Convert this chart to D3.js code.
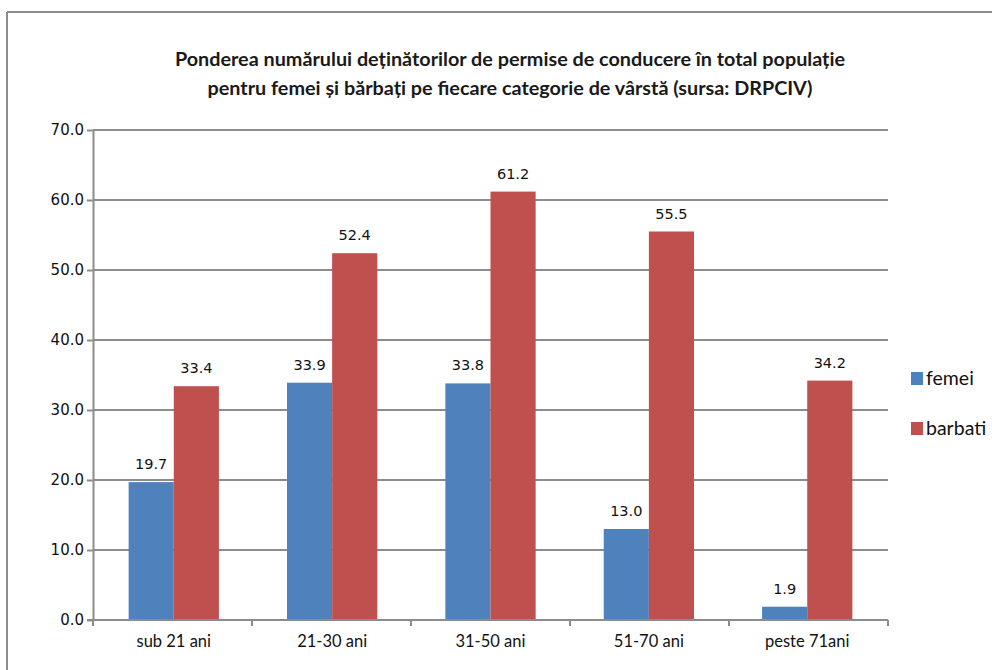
<!DOCTYPE html>
<html>
<head>
<meta charset="utf-8">
<script src="https://cdn.jsdelivr.net/npm/d3@7"></script>
<style>
  html, body { margin: 0; padding: 0; background: #fff; }
  svg { display: block; }
</style>
</head>
<body>
<svg id="chart" width="992" height="670"></svg>
<script>
// Age groups and share (%) of driving-licence holders per group
const categories = ["sub 21 ani", "21-30 ani", "31-50 ani", "51-70 ani", "peste 71ani"];
const femei = [19.7, 33.9, 33.8, 13.0, 1.9];
const barbati = [33.4, 52.4, 61.2, 55.5, 34.2];
const seriesNames = ["femei", "barbati"];
const seriesColors = ["#4f81bd", "#c0504d"];
const yTicks = [0, 10, 20, 30, 40, 50, 60, 70];
const titleLines = [
  "Ponderea numărului deținătorilor de permise de conducere în total populație",
  "pentru femei și bărbați pe fiecare categorie de vârstă (sursa: DRPCIV)"
];

const svg = d3.select("#chart");
const plot = { left: 93, right: 888, top: 130, bottom: 620 };
const numFont = "'DejaVu Sans', Verdana, sans-serif";
const textFont = "Lato, 'Open Sans', sans-serif";

// frame around the chart area
svg.append("line").attr("x1", 7).attr("x2", 992).attr("y1", 12).attr("y2", 12)
  .attr("stroke", "#8c8c8c").attr("stroke-width", 2);
svg.append("line").attr("x1", 7).attr("x2", 7).attr("y1", 12).attr("y2", 670)
  .attr("stroke", "#8c8c8c").attr("stroke-width", 2);

// title
svg.append("g").selectAll("text").data(titleLines).join("text")
  .attr("x", 510).attr("y", (d, i) => 66 + i * 29)
  .attr("text-anchor", "middle")
  .attr("font-family", textFont)
  .attr("font-weight", "bold").attr("font-size", 19.8).attr("fill", "#1a1a1a")
  .text(d => d);

const x0 = d3.scaleBand().domain(categories).range([plot.left, plot.right])
  .paddingInner(0.43).paddingOuter(0.225);
const x1 = d3.scaleBand().domain(seriesNames).range([0, x0.bandwidth()]);
const y = d3.scaleLinear().domain([0, 70]).range([plot.bottom, plot.top]);

// horizontal gridlines
svg.append("g").selectAll("line").data(yTicks.filter(t => t > 0)).join("line")
  .attr("x1", plot.left).attr("x2", plot.right)
  .attr("y1", d => y(d)).attr("y2", d => y(d))
  .attr("stroke", "#8c8c8c").attr("stroke-width", 2);

// bars
const rows = categories.map((c, i) => ({ cat: c, values: [femei[i], barbati[i]] }));
const groups = svg.append("g").selectAll("g").data(rows).join("g")
  .attr("transform", d => `translate(${x0(d.cat)},0)`);
groups.selectAll("rect").data(d => d.values.map((v, j) => ({ key: seriesNames[j], v, j })))
  .join("rect")
  .attr("x", d => x1(d.key)).attr("width", x1.bandwidth())
  .attr("y", d => y(d.v)).attr("height", d => y(0) - y(d.v))
  .attr("fill", d => seriesColors[d.j]);
groups.selectAll("text").data(d => d.values.map((v, j) => ({ key: seriesNames[j], v, j })))
  .join("text")
  .attr("x", d => x1(d.key) + x1.bandwidth() / 2)
  .attr("y", d => y(d.v) - 13)
  .attr("text-anchor", "middle")
  .attr("font-family", numFont)
  .attr("font-size", 14.5).attr("fill", "#111")
  .text(d => d.v.toFixed(1));

// y axis
const yAxis = svg.append("g").attr("transform", `translate(${plot.left},0)`)
  .call(d3.axisLeft(y).tickValues(yTicks).tickFormat(d3.format(".1f")).tickSize(6).tickSizeOuter(0));
yAxis.select(".domain").attr("stroke", "#8c8c8c").attr("stroke-width", 2);
yAxis.selectAll(".tick line").attr("stroke", "#8c8c8c").attr("stroke-width", 2);
yAxis.selectAll(".tick text").attr("x", -9)
  .attr("font-family", numFont).attr("font-size", 15).attr("fill", "#111");

// x axis with ticks between groups
const xAxisG = svg.append("g");
xAxisG.append("line").attr("x1", plot.left - 6).attr("x2", plot.right)
  .attr("y1", plot.bottom).attr("y2", plot.bottom)
  .attr("stroke", "#8c8c8c").attr("stroke-width", 2);
const step = (plot.right - plot.left) / categories.length;
const boundaries = d3.range(categories.length + 1).map(i => plot.left + i * step);
xAxisG.selectAll("line.tk").data(boundaries).join("line").attr("class", "tk")
  .attr("x1", d => d).attr("x2", d => d).attr("y1", plot.bottom).attr("y2", plot.bottom + 6)
  .attr("stroke", "#8c8c8c").attr("stroke-width", 2);
xAxisG.selectAll("text").data(categories).join("text")
  .attr("x", d => x0(d) + x0.bandwidth() / 2).attr("y", plot.bottom + 27)
  .attr("text-anchor", "middle")
  .attr("font-family", textFont).attr("font-size", 16.5).attr("fill", "#111")
  .text(d => d);

// legend
const legend = svg.append("g").selectAll("g").data(seriesNames).join("g")
  .attr("transform", (d, i) => `translate(911,${372 + i * 50})`);
legend.append("rect").attr("width", 12).attr("height", 13).attr("fill", (d, i) => seriesColors[i]);
legend.append("text").attr("x", 15).attr("y", 13)
  .attr("font-family", textFont).attr("font-size", 19.5).attr("fill", "#111")
  .text(d => d);
</script>
</body>
</html>
